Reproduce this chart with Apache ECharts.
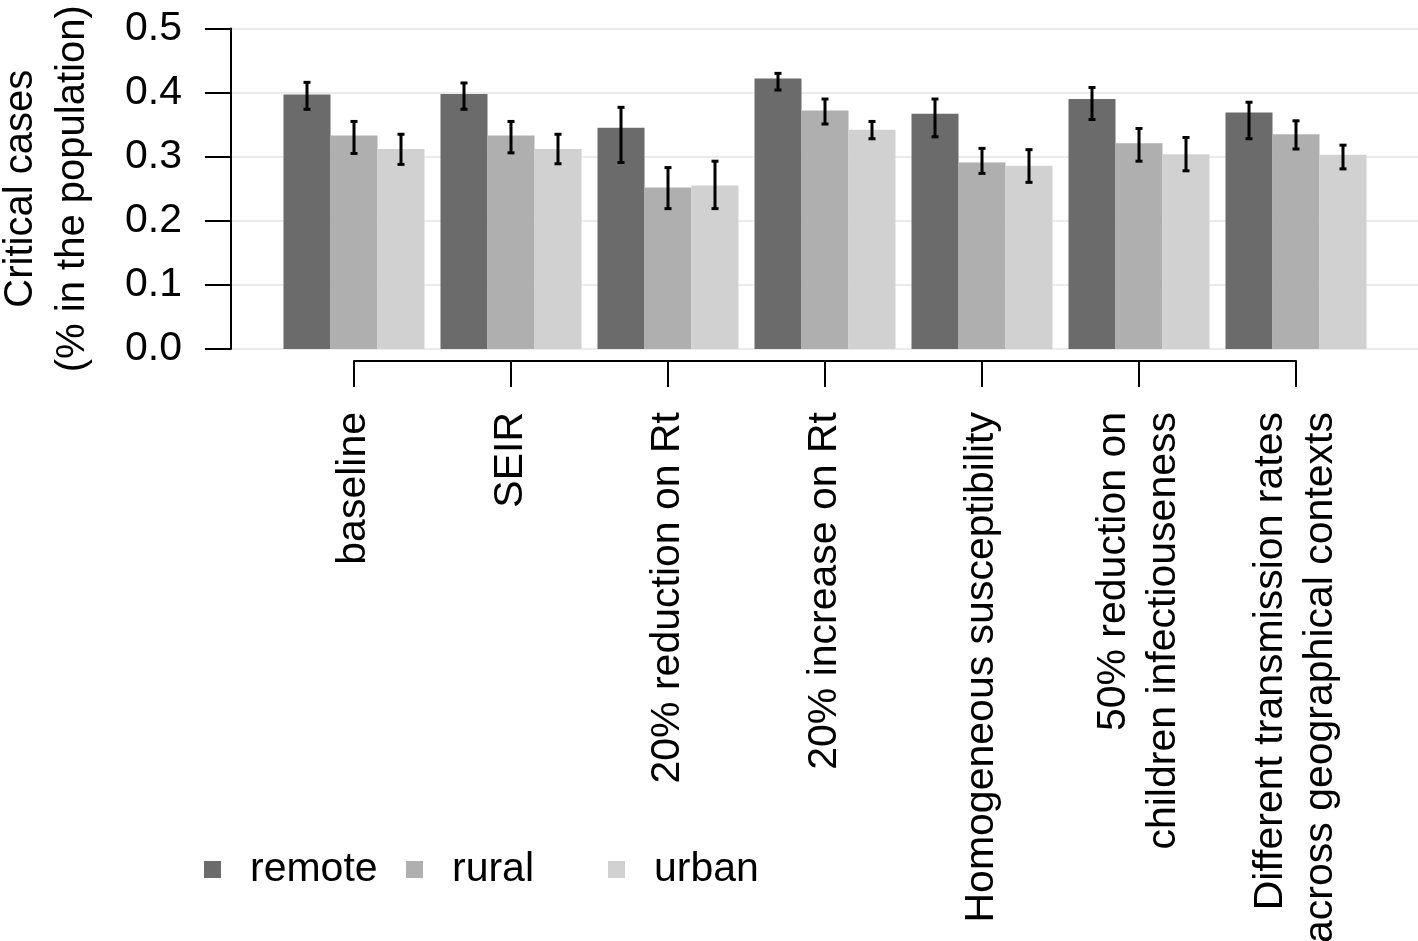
<!DOCTYPE html>
<html>
<head>
<meta charset="utf-8">
<script src="https://cdn.jsdelivr.net/npm/echarts@6/dist/echarts.min.js"></script>
<style>html,body{margin:0;padding:0;background:#fff;}#c{width:1418px;height:941px;}</style>
</head>
<body>
<div id="c"></div>
<script>
const categories = ['baseline', 'SEIR', '20% reduction on Rt', '20% increase on Rt',
  'Homogeneous susceptibility', '50% reduction on\nchildren infectiouseness',
  'Different transmission rates\nacross geographical contexts'];
const seriesNames = ['remote', 'rural', 'urban'];
const remote = [0.397, 0.398, 0.345, 0.422, 0.367, 0.390, 0.369];
const rural  = [0.333, 0.333, 0.252, 0.372, 0.291, 0.321, 0.335];
const urban  = [0.312, 0.312, 0.255, 0.342, 0.286, 0.304, 0.303];
const remoteLow  = [0.374, 0.374, 0.291, 0.404, 0.331, 0.358, 0.328];
const remoteHigh = [0.416, 0.415, 0.377, 0.430, 0.390, 0.408, 0.385];
const ruralLow   = [0.305, 0.306, 0.219, 0.351, 0.274, 0.293, 0.312];
const ruralHigh  = [0.355, 0.355, 0.283, 0.390, 0.313, 0.344, 0.356];
const urbanLow   = [0.288, 0.289, 0.219, 0.328, 0.260, 0.278, 0.281];
const urbanHigh  = [0.335, 0.335, 0.293, 0.355, 0.311, 0.330, 0.318];
const yTicks = [0, 0.1, 0.2, 0.3, 0.4, 0.5];

const colors = ['#6b6b6b', '#afafaf', '#d1d1d1'];
const FONT = '"Liberation Sans", Arial, Helvetica, sans-serif';
const FS = 41;
const BAR_W = 47;
const values = [remote, rural, urban];
const lows = [remoteLow, ruralLow, urbanLow];
const highs = [remoteHigh, ruralHigh, urbanHigh];

const chart = echarts.init(document.getElementById('c'), null, {renderer: 'canvas'});

const series = [];
seriesNames.forEach((name, k) => {
  series.push({
    name: name, type: 'bar', xAxisIndex: 0, yAxisIndex: 0,
    data: values[k], barWidth: BAR_W, barGap: '0%', clip: false,
    itemStyle: {color: colors[k]}, silent: true, animation: false
  });
});
seriesNames.forEach((name, k) => {
  const offset = (k - 1) * BAR_W;
  series.push({
    name: name + '-err', type: 'custom', xAxisIndex: 0, yAxisIndex: 0,
    data: categories.map((c, i) => [i, lows[k][i], highs[k][i]]),
    encode: {x: 0, y: [1, 2]}, clip: false, silent: true, animation: false, z: 5,
    renderItem: function (params, api) {
      const i = api.value(0);
      const pLo = api.coord([i, api.value(1)]);
      const pHi = api.coord([i, api.value(2)]);
      const x = pLo[0] + offset;
      const cap = 3.5;
      const st = {stroke: '#000', lineWidth: 3};
      return {type: 'group', children: [
        {type: 'line', shape: {x1: x, y1: pLo[1], x2: x, y2: pHi[1]}, style: st},
        {type: 'line', shape: {x1: x - cap, y1: pLo[1], x2: x + cap, y2: pLo[1]}, style: st},
        {type: 'line', shape: {x1: x - cap, y1: pHi[1], x2: x + cap, y2: pHi[1]}, style: st}
      ]};
    }
  });
});

const legendX = [204, 406, 608];
const legends = seriesNames.map((n, k) => ({
  data: [n], left: legendX[k], top: 849, padding: 0,
  itemWidth: 17, itemHeight: 17, icon: 'rect', selectedMode: false,
  textStyle: {fontFamily: FONT, fontSize: FS, color: '#000', lineHeight: 40, padding: [0, 0, 0, 24]}
}));

chart.setOption({
  animation: false,
  backgroundColor: '#fff',
  legend: legends,
  grid: [
    {left: 354, right: 122, top: 28.5, bottom: 592, containLabel: false, outerBoundsMode: 'none'},
    {left: 231, right: 0, top: 28.5, bottom: 592, containLabel: false, outerBoundsMode: 'none'}
  ],
  xAxis: [
    {gridIndex: 0, type: 'category', data: categories, boundaryGap: false, offset: 12,
     axisLine: {show: true, onZero: false, lineStyle: {color: '#000', width: 2}},
     axisTick: {show: true, length: 26, lineStyle: {color: '#000', width: 2}, interval: 0},
     axisLabel: {rotate: 90, margin: 51, interval: 0, fontFamily: FONT, fontSize: FS, lineHeight: 50, color: '#000'},
     splitLine: {show: false}},
    {gridIndex: 1, type: 'value', show: false, min: 0, max: 1}
  ],
  yAxis: [
    {gridIndex: 0, type: 'value', min: 0, max: 0.5, interval: 0.1, show: false, splitLine: {show: false}},
    {gridIndex: 1, type: 'value', min: yTicks[0], max: yTicks[yTicks.length - 1], interval: 0.1,
     name: 'Critical cases\n(% in the population)', nameLocation: 'middle', nameGap: 132,
     nameTextStyle: {fontFamily: FONT, fontSize: 40, lineHeight: 52, color: '#000'},
     axisLine: {show: true, onZero: false, lineStyle: {color: '#000', width: 2}},
     axisTick: {show: true, length: 26, lineStyle: {color: '#000', width: 2}},
     axisLabel: {margin: 49, fontFamily: FONT, fontSize: FS, color: '#000', formatter: v => v.toFixed(1)},
     splitLine: {show: true, lineStyle: {color: '#ebebeb', width: 2}}}
  ],
  series: series
});
</script>
</body>
</html>
